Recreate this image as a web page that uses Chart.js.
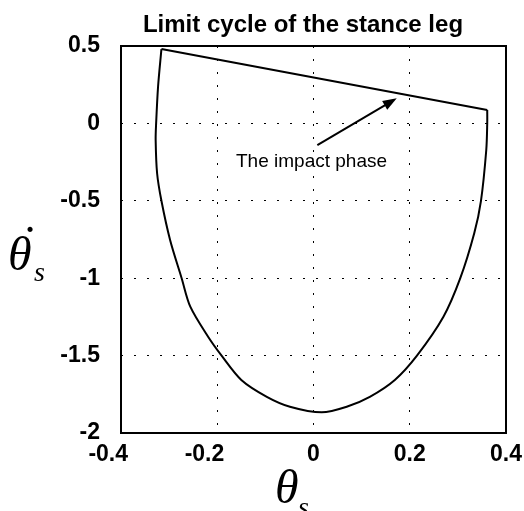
<!DOCTYPE html>
<html>
<head>
<meta charset="utf-8">
<script src="https://cdn.jsdelivr.net/npm/chart.js@4.4.1/dist/chart.umd.min.js"></script>
<style>
  html, body { margin: 0; padding: 0; background: #fff; }
  #wrap { width: 524px; height: 511px; }
</style>
</head>
<body>
<div id="wrap"><canvas id="cycleChart"></canvas></div>
<script>
// limit cycle points (theta_s, dtheta_s)
const thetaS = [-0.316, -0.323, -0.327, -0.328, -0.325, -0.316, -0.298, -0.274, -0.256, -0.219, -0.191, -0.150, -0.097, -0.049, 0.017, 0.069, 0.117, 0.169, 0.215, 0.270, 0.305, 0.334, 0.348, 0.359, 0.361, 0.361];
const dThetaS = [0.48, 0.237, 0.0, -0.107, -0.322, -0.5, -0.753, -1.0, -1.184, -1.378, -1.5, -1.657, -1.766, -1.83, -1.866, -1.83, -1.766, -1.657, -1.5, -1.249, -1.0, -0.71, -0.5, -0.172, 0.0, 0.087];

// impact jump: from end of the swing back to the start
const impactTheta = [0.361, -0.316];
const impactDTheta = [0.087, 0.48];

const xTicks = [-0.4, -0.2, 0, 0.2, 0.4];
const yTicks = [0.5, 0, -0.5, -1, -1.5, -2];

// annotation
const arrowFrom = [0.008, -0.14];
const arrowTo = [0.173, 0.162];
const noteText = 'The impact phase';
const notePos = [-0.161, -0.284];

const titleText = 'Limit cycle of the stance leg';

const points = thetaS.map((x, i) => ({ x: x, y: dThetaS[i] }));
const impactPoints = impactTheta.map((x, i) => ({ x: x, y: impactDTheta[i] }));

// frame, title, axis labels and arrow
const extrasPlugin = {
    id: 'extras',
    afterDraw(chart) {
        const ctx = chart.ctx;
        const a = chart.chartArea;
        const xs = chart.scales.x;
        const ys = chart.scales.y;
        ctx.save();

        // box
        ctx.strokeStyle = '#000';
        ctx.lineWidth = 2;
        ctx.strokeRect(a.left, a.top, a.right - a.left, a.bottom - a.top);

        // title
        ctx.fillStyle = '#000';
        ctx.font = 'bold 24px "Liberation Sans", Arial, sans-serif';
        ctx.textAlign = 'center';
        ctx.textBaseline = 'alphabetic';
        ctx.fillText(titleText, 303, 32);

        // arrow
        const x1 = xs.getPixelForValue(arrowFrom[0]), y1 = ys.getPixelForValue(arrowFrom[1]);
        const x2 = xs.getPixelForValue(arrowTo[0]), y2 = ys.getPixelForValue(arrowTo[1]);
        const ang = Math.atan2(y2 - y1, x2 - x1);
        ctx.lineWidth = 2;
        ctx.beginPath();
        ctx.moveTo(x1, y1);
        ctx.lineTo(x2 - 10 * Math.cos(ang), y2 - 10 * Math.sin(ang));
        ctx.stroke();
        ctx.beginPath();
        ctx.moveTo(x2, y2);
        ctx.lineTo(x2 - 14 * Math.cos(ang) + 5 * Math.sin(ang), y2 - 14 * Math.sin(ang) - 5 * Math.cos(ang));
        ctx.lineTo(x2 - 14 * Math.cos(ang) - 5 * Math.sin(ang), y2 - 14 * Math.sin(ang) + 5 * Math.cos(ang));
        ctx.closePath();
        ctx.fill();

        // note
        ctx.font = '19px "Liberation Sans", Arial, sans-serif';
        ctx.textAlign = 'left';
        ctx.fillText(noteText, xs.getPixelForValue(notePos[0]), ys.getPixelForValue(notePos[1]));

        // y axis label
        ctx.font = 'italic 48px "Liberation Serif", "Times New Roman", serif';
        ctx.fillText('θ', 8, 270);
        ctx.fillText('˙', 19, 259);
        ctx.font = 'italic 28px "Liberation Serif", "Times New Roman", serif';
        ctx.fillText('s', 34, 281);

        // x axis label
        ctx.font = 'italic 48px "Liberation Serif", "Times New Roman", serif';
        ctx.fillText('θ', 275, 503);
        ctx.font = 'italic 28px "Liberation Serif", "Times New Roman", serif';
        ctx.fillText('s', 298, 516);

        ctx.restore();
    }
};

const tickFont = { family: '"Liberation Sans", Arial, sans-serif', size: 23, weight: 'bold' };

const ctx = document.getElementById('cycleChart').getContext('2d');
const cycleChart = new Chart(ctx, {
    type: 'scatter',
    data: {
        datasets: [{
            data: points,
            showLine: true,
            borderColor: '#000',
            borderWidth: 2,
            pointRadius: 0,
            tension: 0.3,
            fill: false
        }, {
            data: impactPoints,
            showLine: true,
            borderColor: '#000',
            borderWidth: 2,
            pointRadius: 0,
            tension: 0,
            fill: false
        }]
    },
    options: {
        responsive: true,
        maintainAspectRatio: false,
        animation: false,
        layout: { padding: { top: 46, right: 18, left: 0, bottom: 0 } },
        plugins: {
            legend: { display: false },
            tooltip: { enabled: false }
        },
        scales: {
            x: {
                type: 'linear',
                min: -0.4,
                max: 0.4,
                afterBuildTicks: (scale) => { scale.ticks = xTicks.map(v => ({ value: v })); },
                afterFit: (scale) => { scale.height = 78; scale.paddingRight = 0; scale.paddingLeft = 0; },
                grid: { color: '#000', lineWidth: 1, drawTicks: false },
                border: { display: false, dash: [2, 11] },
                ticks: {
                    color: '#000',
                    padding: 8,
                    maxRotation: 0,
                    font: tickFont,
                    // negative labels sit left of their tick in the reference
                    callback: (v) => { const r = Math.round(v * 10) / 10; return r < 0 ? r + '    ' : String(r); }
                }
            },
            y: {
                type: 'linear',
                min: -2,
                max: 0.5,
                afterBuildTicks: (scale) => { scale.ticks = yTicks.map(v => ({ value: v })); },
                afterFit: (scale) => { scale.width = 121; scale.paddingTop = 0; scale.paddingBottom = 0; },
                grid: { color: '#000', lineWidth: 1, drawTicks: false },
                border: { display: false, dash: [2, 11] },
                ticks: {
                    color: '#000',
                    padding: 21,
                    font: tickFont,
                    callback: (v) => String(Math.round(v * 10) / 10)
                }
            }
        }
    },
    plugins: [extrasPlugin]
});
</script>
</body>
</html>
